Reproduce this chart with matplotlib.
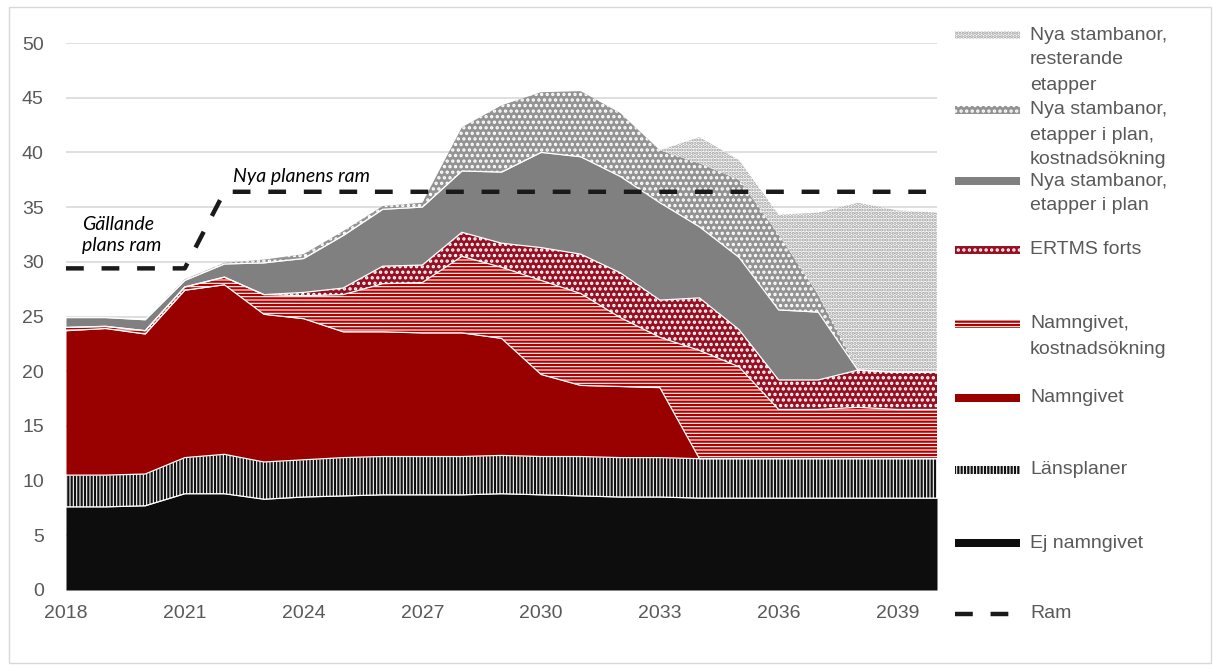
import matplotlib.pyplot as plt
from matplotlib.patches import Rectangle
from matplotlib.lines import Line2D
import numpy as np

plt.rcParams['font.family'] = ['Liberation Sans', 'DejaVu Sans']
plt.rcParams['hatch.linewidth'] = 1.6

years = np.arange(2018, 2041)

# layer values (mdr kr), bottom to top
ej_namngivet = [7.6, 7.6, 7.7, 8.8, 8.8, 8.3, 8.5, 8.6, 8.7, 8.7, 8.7, 8.8,
                8.7, 8.6, 8.5, 8.5, 8.4, 8.4, 8.4, 8.4, 8.4, 8.4, 8.4]
lansplaner = [2.9, 2.9, 2.9, 3.3, 3.6, 3.4, 3.4, 3.5, 3.5, 3.5, 3.5, 3.5,
              3.5, 3.6, 3.6, 3.6, 3.6, 3.6, 3.6, 3.6, 3.6, 3.6, 3.6]
namngivet = [13.2, 13.4, 12.8, 15.3, 15.5, 13.5, 12.9, 11.5, 11.4, 11.3, 11.3, 10.7,
             7.5, 6.5, 6.5, 6.4, 0, 0, 0, 0, 0, 0, 0]
namngivet_kostn = [0.3, 0.2, 0.3, 0.3, 0.7, 1.8, 2.1, 3.4, 4.4, 4.6, 7.0, 6.5,
                   8.6, 8.4, 6.3, 4.6, 9.9, 8.4, 4.5, 4.5, 4.7, 4.5, 4.5]
ertms = [0, 0, 0, 0, 0, 0, 0.3, 0.6, 1.6, 1.6, 2.2, 2.2,
         3.0, 3.6, 4.1, 3.4, 4.8, 3.4, 2.7, 2.7, 3.4, 3.4, 3.4]
stamb_plan = [0.9, 0.8, 1.0, 0.6, 1.2, 2.9, 3.1, 4.8, 5.2, 5.3, 5.6, 6.5,
              8.7, 8.9, 8.8, 8.9, 6.5, 6.6, 6.4, 6.2, 0, 0, 0]
stamb_kostn = [0, 0, 0, 0.1, 0.1, 0.3, 0.4, 0.4, 0.3, 0.4, 4.0, 6.1,
               5.5, 6.0, 5.8, 4.8, 5.8, 7.1, 6.9, 1.6, 0, 0, 0]
stamb_rest = [0, 0, 0, 0, 0, 0, 0, 0, 0, 0, 0, 0,
              0, 0, 0, 0, 2.4, 1.8, 1.8, 7.5, 15.3, 14.8, 14.6]
ram = [29.4, 29.4, 29.4, 29.4] + [36.4] * 19

xticks = [2018, 2021, 2024, 2027, 2030, 2033, 2036, 2039]
yticks = list(range(0, 55, 5))

# (values, face, hatch colour, hatch, legend lines)
layers = [
    (ej_namngivet, '#0d0d0d', '#0d0d0d', None, ['Ej namngivet']),
    (lansplaner, 'white', '#111111', '|||||', ['Länsplaner']),
    (namngivet, '#990000', '#990000', None, ['Namngivet']),
    (namngivet_kostn, 'white', '#b00000', '-----', ['Namngivet,', 'kostnadsökning']),
    (ertms, '#960f22', 'white', '...', ['ERTMS forts']),
    (stamb_plan, '#808080', '#808080', None, ['Nya stambanor,', 'etapper i plan']),
    (stamb_kostn, '#939393', 'white', '...', ['Nya stambanor,', 'etapper i plan,', 'kostnadsökning']),
    (stamb_rest, 'white', '#9a9a9a', '.....', ['Nya stambanor,', 'resterande', 'etapper']),
]

W, H = 1213, 669
fig = plt.figure(figsize=(W / 100, H / 100), dpi=100)
ax = fig.add_axes([66 / W, 79 / H, 871 / W, 547 / H])

base = np.zeros(len(years))
tops = []
for vals, fc, hc, hatch, _ in layers:
    top = base + np.array(vals)
    ax.fill_between(years, base, top, facecolor=fc, edgecolor=hc, hatch=hatch,
                    linewidth=0, zorder=2)
    tops.append(top)
    base = top

# thin white borders between the layers
for top in tops[:6]:
    ax.plot(years, top, color='white', lw=0.9, zorder=3)

ax.plot(years, ram, color='#1a1a1a', lw=3.2, dashes=(4, 4), zorder=5)

ax.text(2018.4, 32.45, 'Gällande\nplans ram', family=['Lato', 'DejaVu Sans'],
        style='italic', fontsize=14, va='center', ha='left', linespacing=1.3)
ax.text(2022.22, 37.8, 'Nya planens ram', family=['Lato', 'DejaVu Sans'],
        style='italic', fontsize=14, va='center', ha='left')

ax.set_xlim(2018, 2040)
ax.set_ylim(0, 50)
ax.set_xticks(xticks)
ax.set_yticks(yticks)
ax.tick_params(length=0, labelsize=14, labelcolor='#595959')
ax.tick_params(axis='x', pad=11)
ax.tick_params(axis='y', pad=16)
ax.grid(axis='y', color='#d9d9d9', lw=1.2)
ax.set_axisbelow(True)
for s in ax.spines.values():
    s.set_visible(False)

# legend drawn in pixel coordinates
lax = fig.add_axes([0, 0, 1, 1])
lax.set_xlim(0, W)
lax.set_ylim(H, 0)
lax.axis('off')
lax.add_patch(Rectangle((9, 7), 1202, 656, fill=False, edgecolor='#d9d9d9', lw=1))

leg_y = [543, 470, 398, 324, 250, 181, 110, 35]
for (vals, fc, hc, hatch, lines), y in zip(layers, leg_y):
    lax.add_patch(Rectangle((955, y - 4), 65, 8, facecolor=fc, edgecolor=hc,
                            hatch=hatch, lw=0))
    for i, line in enumerate(lines):
        lax.text(1030, y + i * 25, line, fontsize=14, color='#595959', va='center', ha='left')

lax.add_line(Line2D([955, 1012], [614, 614], color='#1a1a1a', lw=3.2, dashes=(4, 4)))
lax.text(1030, 614, 'Ram', fontsize=14, color='#595959', va='center', ha='left')

fig.savefig('out.png', dpi=100)
